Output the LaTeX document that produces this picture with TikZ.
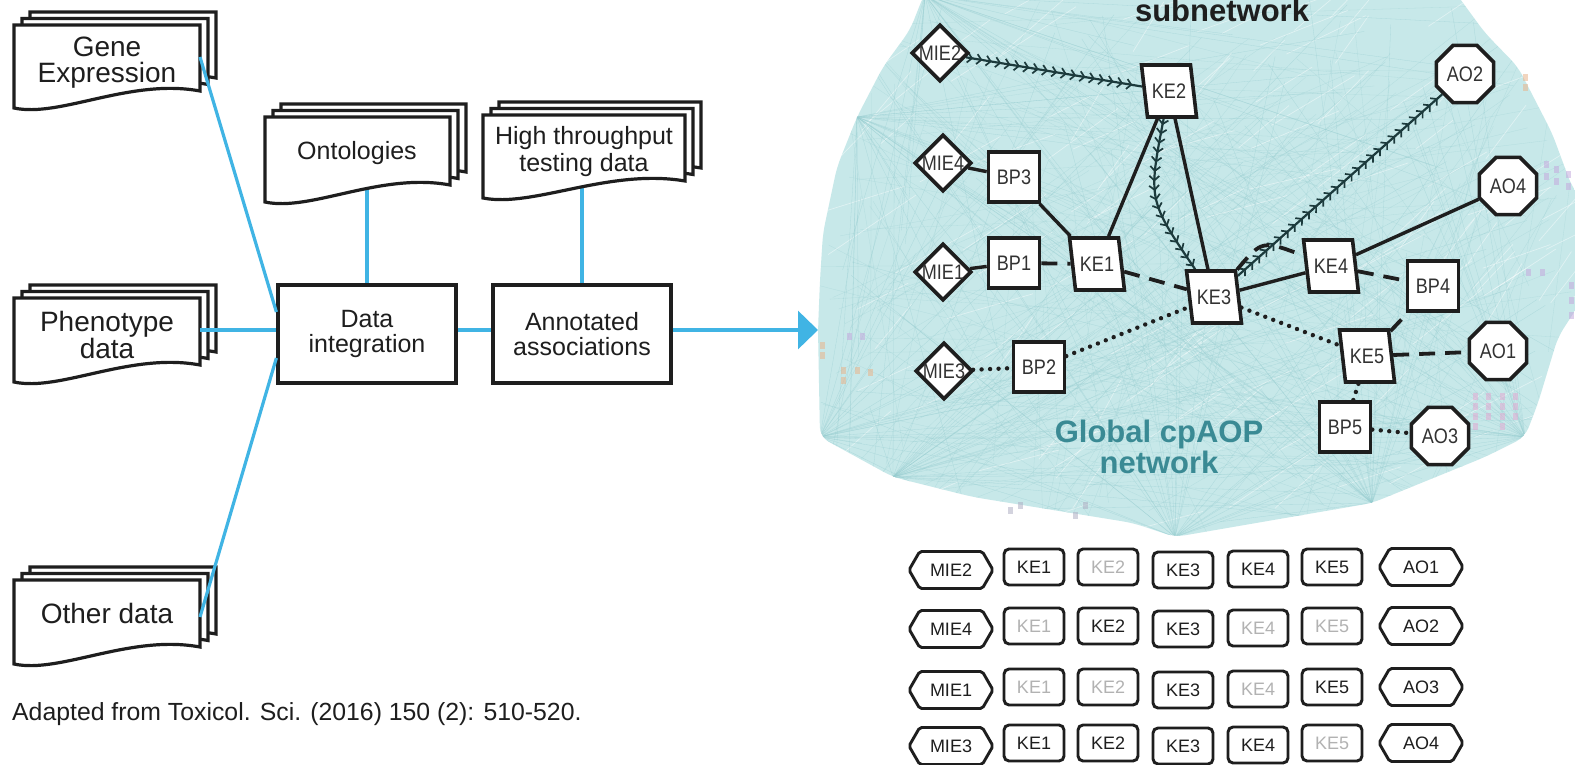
\documentclass[tikz,border=0pt]{standalone}
\usepackage{fontspec}
\setmainfont{Liberation Sans}
\newfontfamily\netfont[FakeStretch=0.86]{Liberation Sans}
\usetikzlibrary{shapes.geometric,shapes.symbols,arrows.meta,decorations.markings,calc}

\definecolor{feedblue}{RGB}{64,180,228}
\definecolor{blobfill}{RGB}{199,232,233}
\definecolor{blobline}{RGB}{150,205,208}
\definecolor{chev}{RGB}{28,58,60}
\definecolor{tealtext}{RGB}{58,138,148}
\definecolor{ink}{RGB}{30,30,30}
\definecolor{label}{RGB}{50,50,50}
\definecolor{faded}{RGB}{178,178,178}
\definecolor{glyphpink}{RGB}{226,170,210}
\definecolor{glyphpurple}{RGB}{196,170,222}
\definecolor{glyphorange}{RGB}{232,180,140}
\definecolor{glyphgray}{RGB}{175,175,195}

\pgfdeclarelayer{blob}
\pgfdeclarelayer{links}
\pgfsetlayers{blob,links,main}

% one paper sheet with a wavy lower edge: left, top, width, height
\newcommand{\docsheet}[4]{%
  \pgfmathsetmacro{\shL}{#1}\pgfmathsetmacro{\shT}{#2}%
  \pgfmathsetmacro{\shR}{#1+#3}\pgfmathsetmacro{\shB}{#2+#4}%
  \pgfmathsetmacro{\shRB}{#2+#4-17}%
  \pgfmathsetmacro{\shCa}{#1+0.624*(#3)}\pgfmathsetmacro{\shCb}{#1+0.247*(#3)}%
  \pgfmathsetmacro{\shYa}{#2+#4-30}\pgfmathsetmacro{\shYb}{#2+#4+10}%
  \filldraw[sheet] (\shL,\shT) -- (\shR,\shT) -- (\shR,\shRB)
    .. controls (\shCa,\shYa) and (\shCb,\shYb) .. (\shL,\shB) -- cycle;}
% a stack of three sheets, front sheet given
\newcommand{\docstack}[4]{%
  \docsheet{#1+16}{#2-13}{#3}{#4}%
  \docsheet{#1+8}{#2-6.5}{#3}{#4}%
  \docsheet{#1}{#2}{#3}{#4}}

\tikzset{
  sheet/.style={draw=ink, fill=white, line width=3.2pt},
  doctext/.style={align=center, text=ink, inner sep=0pt, font=\fontsize{28}{26}\selectfont},
  toptext/.style={align=center, text=ink, inner sep=0pt, font=\fontsize{25}{27}\selectfont},
  procbox/.style={draw=ink, fill=white, line width=3.2pt, minimum width=178pt,
    minimum height=98pt, align=center, text=ink, font=\fontsize{25}{25}\selectfont},
  feed/.style={draw=feedblue, line width=3.2pt},
  netnode/.style={draw=ink, fill=white, line width=3.6pt, inner sep=0pt, text=label,
    font=\netfont\fontsize{21}{21}\selectfont},
  mienode/.style={netnode, diamond, minimum width=57pt, minimum height=57pt},
  bpnode/.style={netnode, rectangle, minimum width=51pt, minimum height=50pt},
  kenode/.style={netnode, trapezium, trapezium left angle=108, trapezium right angle=72,
    trapezium stretches=true, minimum width=55pt, minimum height=52pt},
  aonode/.style={netnode, regular polygon, regular polygon sides=8, minimum size=62pt},
  solidedge/.style={draw=ink, line width=3.4pt},
  dashedge/.style={draw=ink, line width=3.8pt, dash pattern=on 16pt off 10pt},
  dotedge/.style={draw=ink, line width=4.4pt, line cap=round, dash pattern=on 0pt off 8.5pt},
  chevline/.style={color=chev, line width=2.2pt, postaction={decorate},
    decoration={markings, mark=between positions 0.04 and 0.98 step 9.5pt with
      {\arrow[line width=1.7pt]{Straight Barb[length=4.5pt,width=10pt]}}}},
  gridcap/.style={draw=ink, fill=white, line width=2.9pt, signal, signal to=west and east,
    signal pointer angle=120, minimum width=84pt, minimum height=37pt, inner sep=0pt,
    rounded corners=2pt, text=ink, font=\fontsize{18}{18}\selectfont},
  gridbox/.style={draw=ink, fill=white, line width=2.9pt, rectangle, rounded corners=5pt,
    minimum width=60pt, minimum height=36pt, inner sep=0pt, text=ink,
    font=\fontsize{18}{18}\selectfont},
  greyed/.style={text=faded},
  bigtitle/.style={font=\bfseries\fontsize{31}{31}\selectfont, inner sep=0pt, align=center},
}

\begin{document}
\begin{tikzpicture}[x=1pt,y=-1pt]
\useasboundingbox (0,0) rectangle (1575,765);

% ---------- background network cloud ----------
\begin{pgfonlayer}{blob}
  \fill[white] (0,0) rectangle (1575,765);
  \begin{scope}
    \clip[rounded corners=10pt] (925,-8) -- (1455,-8) -- (1485,33) -- (1518,67) -- (1552,133)
      -- (1572,187) -- (1582,200) -- (1582,300) -- (1558,337) -- (1538,403) -- (1525,437)
      -- (1485,457) -- (1372,503) -- (1175,537) -- (1133,523) -- (973,497) -- (893,477)
      -- (820,437) -- (818,330) -- (820,280) -- (823,233) -- (837,167) -- (857,117)
      -- (883,67) -- (910,30) -- cycle;
    \fill[blobfill] (800,-10) rectangle (1585,560);
    \pgfmathsetseed{12}
    \foreach \k in {1,...,220}{
      \pgfmathsetmacro{\ax}{815+rnd*760}\pgfmathsetmacro{\ay}{rnd*540}
      \pgfmathsetmacro{\bx}{815+rnd*760}\pgfmathsetmacro{\by}{rnd*540}
      \draw[blobline, line width=0.3pt, opacity=0.4] (\ax,\ay) -- (\bx,\by);
    }
    \foreach \k in {1,...,160}{
      \pgfmathsetmacro{\ax}{815+rnd*760}\pgfmathsetmacro{\ay}{rnd*540}
      \pgfmathsetmacro{\bx}{\ax+30+rnd*60}\pgfmathsetmacro{\by}{\ay-20-rnd*40}
      \draw[white, line width=0.7pt, opacity=0.45] (\ax,\ay) -- (\bx,\by);
    }
    \foreach \hx/\hy in {1175/537, 893/477, 820/437, 857/117, 1372/503, 1525/437, 925/-5}{
      \foreach \k in {1,...,28}{
        \pgfmathsetmacro{\bx}{815+rnd*760}\pgfmathsetmacro{\by}{rnd*540}
        \draw[blobline, line width=0.3pt, opacity=0.55] (\hx,\hy) -- (\bx,\by);
      }
    }
  \end{scope}
  \foreach \gx/\gy/\gc in {
    1475/396/glyphpink,1475/406/glyphpink,1475/416/glyphpink,1475/426/glyphpink,
    1488/396/glyphpink,1488/406/glyphpink,1488/416/glyphpink,
    1502/396/glyphpink,1502/406/glyphpink,1502/416/glyphpink,1502/426/glyphpink,
    1515/396/glyphpink,1515/406/glyphpink,1515/416/glyphpink,
    1546/165/glyphpurple,1546/177/glyphpurple,1556/170/glyphpurple,1556/182/glyphpurple,
    1568/175/glyphpurple,1568/187/glyphpurple,1528/272/glyphpurple,1542/272/glyphpurple,
    1571/285/glyphpurple,1571/300/glyphpurple,1571/315/glyphpurple,
    822/345/glyphorange,822/355/glyphorange,843/370/glyphorange,843/380/glyphorange,
    857/370/glyphorange,870/372/glyphorange,849/336/glyphpurple,862/336/glyphpurple,
    1525/78/glyphorange,1525/88/glyphorange,
    1010/510/glyphgray,1020/505/glyphgray,1075/515/glyphgray,1085/505/glyphgray}
    {\fill[\gc, opacity=0.55] (\gx-2.5,\gy-3.5) rectangle (\gx+2.5,\gy+3.5);}
\end{pgfonlayer}

% ---------- data sources ----------
\docstack{14}{25}{186}{83}
\docstack{265}{117}{185}{85}
\docstack{483}{115}{202}{83}
\docstack{14}{298}{186}{84}
\docstack{14}{580}{186}{84}

\node[doctext] (gene) at (107,63) {Gene\\Expression};
\node[toptext] (onto) at (357,153) {Ontologies};
\node[toptext] (htdata) at (584,152) {High throughput\\testing data};
\node[doctext] (pheno) at (107,335) {Phenotype\\data};
\node[doctext] (other) at (107,613) {Other data};

\node[procbox] (integ) at (367,334) {Data\\integration};
\node[procbox] (annot) at (582,334) {Annotated\\associations};

\coordinate (gene-out) at (200,57);
\coordinate (pheno-out) at (200,330);
\coordinate (other-out) at (200,617);
\coordinate (tip) at (818,330);

\draw[feed] (gene-out) -- ($(integ.west)+(0,-22)$);
\draw[feed] (pheno-out) -- (pheno-out -| integ.west);
\draw[feed] (other-out) -- ($(integ.west)+(0,24)$);
\draw[feed] ($(integ.east)+(0,-4)$) -- ($(annot.west)+(0,-4)$);
\draw[feed, -{Triangle[length=20pt,width=38pt]}] ($(annot.east)+(0,-4)$) -- (tip);

\begin{pgfonlayer}{links}
  \draw[feed] (integ.north) -- (integ.north |- onto.center);
  \draw[feed] (annot.north) -- (annot.north |- htdata.center);
\end{pgfonlayer}

\node[anchor=base west, inner sep=0pt, text=ink, font=\fontsize{24.8}{25}\selectfont]
  (cite) at (12,720) {Adapted from Toxicol. Sci. (2016) 150 (2): 510-520.};

% ---------- subnetwork ----------
\node[bigtitle, anchor=base, text=ink] (subtitle) at (1222,22) {subnetwork};
\node[bigtitle, text=tealtext] (globaltitle) at (1159,447) {Global cpAOP\\network};

\node[mienode] (mie2) at (940,53) {MIE2};
\node[mienode] (mie4) at (943,163) {MIE4};
\node[mienode] (mie1) at (943,272) {MIE1};
\node[mienode] (mie3) at (944,371) {MIE3};

\node[bpnode] (bp3) at (1014,177) {BP3};
\node[bpnode] (bp1) at (1014,263) {BP1};
\node[bpnode] (bp2) at (1039,367) {BP2};
\node[bpnode] (bp4) at (1433,286) {BP4};
\node[bpnode] (bp5) at (1345,427) {BP5};

\node[kenode] (ke2) at (1169,91) {KE2};
\node[kenode] (ke1) at (1097,264) {KE1};
\node[kenode] (ke3) at (1214,297) {KE3};
\node[kenode] (ke4) at (1331,266) {KE4};
\node[kenode] (ke5) at (1367,356) {KE5};

\node[aonode] (ao2) at (1465,74) {AO2};
\node[aonode] (ao4) at (1508,186) {AO4};
\node[aonode] (ao1) at (1498,351) {AO1};
\node[aonode] (ao3) at (1440,436) {AO3};

\begin{pgfonlayer}{links}
  \draw[chevline] (mie2) -- (ke2);
  \draw[chevline] (ke2) .. controls (1148,200) .. (ke3);
  \draw[chevline] (ke3) -- (ao2);
  \draw[solidedge] (ke2) -- (ke1);
  \draw[solidedge] (ke2) -- (ke3);
  \draw[solidedge] (mie4) -- (bp3);
  \draw[solidedge] (bp3) -- (ke1);
  \draw[solidedge] (mie1) -- (bp1);
  \draw[dashedge] (bp1) -- (ke1);
  \draw[dashedge] (ke1) -- (ke3);
  \draw[solidedge] (ke3) -- (ke4);
  \draw[dashedge] (ke3) .. controls (1262,240) .. (ke4);
  \draw[solidedge] (ke4) -- (ao4);
  \draw[dashedge] (ke4) -- (bp4);
  \draw[dotedge] (mie3) -- (bp2);
  \draw[dotedge] (bp2) -- (ke3);
  \draw[dotedge] (ke3) -- (ke5);
  \draw[dashedge] (ke5) -- (bp4);
  \draw[dashedge] (ke5) -- (ao1);
  \draw[dotedge] (ke5) -- (bp5);
  \draw[dotedge] (bp5) -- (ao3);
\end{pgfonlayer}

% ---------- pathway table ----------
\node[gridcap] (r1m) at (951,570) {MIE2};
\node[gridbox] (r1a) at (1034,567) {KE1};
\node[gridbox, greyed] (r1b) at (1108,567) {KE2};
\node[gridbox] (r1c) at (1183,570) {KE3};
\node[gridbox] (r1d) at (1258,569) {KE4};
\node[gridbox] (r1e) at (1332,567) {KE5};
\node[gridcap] (r1o) at (1421,567) {AO1};

\node[gridcap] (r2m) at (951,629) {MIE4};
\node[gridbox, greyed] (r2a) at (1034,626) {KE1};
\node[gridbox] (r2b) at (1108,626) {KE2};
\node[gridbox] (r2c) at (1183,629) {KE3};
\node[gridbox, greyed] (r2d) at (1258,628) {KE4};
\node[gridbox, greyed] (r2e) at (1332,626) {KE5};
\node[gridcap] (r2o) at (1421,626) {AO2};

\node[gridcap] (r3m) at (951,690) {MIE1};
\node[gridbox, greyed] (r3a) at (1034,687) {KE1};
\node[gridbox, greyed] (r3b) at (1108,687) {KE2};
\node[gridbox] (r3c) at (1183,690) {KE3};
\node[gridbox, greyed] (r3d) at (1258,689) {KE4};
\node[gridbox] (r3e) at (1332,687) {KE5};
\node[gridcap] (r3o) at (1421,687) {AO3};

\node[gridcap] (r4m) at (951,746) {MIE3};
\node[gridbox] (r4a) at (1034,743) {KE1};
\node[gridbox] (r4b) at (1108,743) {KE2};
\node[gridbox] (r4c) at (1183,746) {KE3};
\node[gridbox] (r4d) at (1258,745) {KE4};
\node[gridbox, greyed] (r4e) at (1332,743) {KE5};
\node[gridcap] (r4o) at (1421,743) {AO4};
\end{tikzpicture}
\end{document}
